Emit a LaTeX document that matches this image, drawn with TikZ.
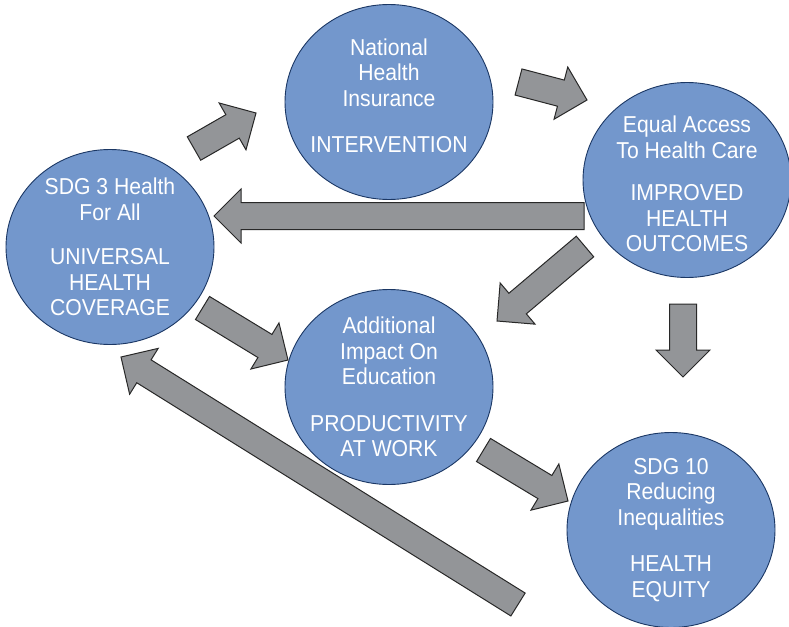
\documentclass[tikz,border=0pt]{standalone}
\usepackage{fontspec}
\setmainfont{Liberation Sans}[FakeStretch=0.92]
\usetikzlibrary{shapes.geometric,calc}

\definecolor{bubblefill}{RGB}{115,151,204}
\definecolor{bubbleline}{RGB}{27,55,100}
\definecolor{arrowfill}{RGB}{147,149,152}
\definecolor{arrowline}{RGB}{40,40,40}

\tikzset{
  bubble/.style={ellipse, draw=bubbleline, fill=bubblefill, line width=0.9pt,
    minimum width=208pt, minimum height=195pt, inner sep=0pt},
  words/.style={text=white, align=center, inner sep=0pt,
    font=\fontsize{23}{25.5}\selectfont},
  fatarrow/.style={draw=arrowline, fill=arrowfill, line width=1pt, line join=miter}
}

% 粗箭頭：#1 為尾端中點，#2 為箭頭尖端
\newcommand{\fatarrow}[2]{%
  \coordinate (H) at ($(#2)!27pt!(#1)$);
  \draw[fatarrow]
    ($(#1)!13.5pt!90:(#2)$) -- ($(H)!13.5pt!90:(#2)$) -- ($(H)!27pt!90:(#2)$)
    -- (#2)
    -- ($(H)!27pt!-90:(#2)$) -- ($(H)!13.5pt!-90:(#2)$) -- ($(#1)!13.5pt!-90:(#2)$)
    -- cycle;
}

\begin{document}
\begin{tikzpicture}[x=1pt,y=-1pt]
\useasboundingbox (0,0) rectangle (789,626);

%五個圓，文字放在圓心
\node[bubble, label={[words,yshift=6pt]center:{National\\Health\\Insurance\\[21pt]INTERVENTION}}] (NHI) at (389,102) {};
\node[bubble, label={[words,yshift=-4pt]center:{Equal Access\\To Health Care\\[17pt]IMPROVED\\HEALTH\\OUTCOMES}}] (EqA) at (687,180) {};
\node[bubble, label={[words]center:{SDG 3 Health\\For All\\[19pt]UNIVERSAL\\HEALTH\\COVERAGE}}] (UHC) at (110,247) {};
\node[bubble, label={[words]center:{Additional\\Impact On\\Education\\[21pt]PRODUCTIVITY\\AT WORK}}] (Edu) at (389,387) {};
\node[bubble, label={[words]center:{SDG 10\\Reducing\\Inequalities\\[21pt]HEALTH\\EQUITY}}] (Eqt) at (671,530) {};

%箭頭的尾端與尖端
\coordinate (A1) at (194,148.5);  \coordinate (B1) at (256,113);
\coordinate (A2) at (518.5,82);   \coordinate (B2) at (587,100);
\coordinate (A3) at (584,216);    \coordinate (B3) at (214,216);
\coordinate (A4) at (585,246.5);  \coordinate (B4) at (497,321);
\coordinate (A5) at (202.5,308);  \coordinate (B5) at (288,360);
\coordinate (A6) at (683,304);    \coordinate (B6) at (683,377);
\coordinate (A7) at (483.5,450);  \coordinate (B7) at (568,501);
\coordinate (A8) at (518,604.5);  \coordinate (B8) at (121,357);

\foreach \s/\e in {A1/B1, A2/B2, A3/B3, A4/B4, A5/B5, A6/B6, A7/B7, A8/B8}
{
    \fatarrow{\s}{\e}
};
\end{tikzpicture}
\end{document}
